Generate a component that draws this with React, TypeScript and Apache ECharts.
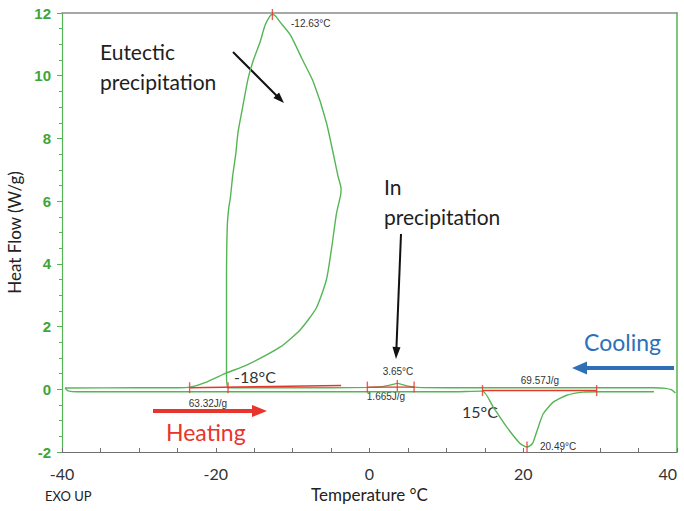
import React, { useEffect, useRef } from "react";
import * as echarts from "echarts";

// Cooling run (path order: 40 °C -> -40 °C, including the recalescence loop)
const coolingTemp = [39.8, 39.3, 38.5, 37, 30, 20, 10, 6.2, 5, 4.3, 3.65, 2.8, 1.5, 0, -5, -10, -15, -18.4,
  -18.6, -18.6, -18.5, -18.3, -18.1, -17.8, -17.4, -17.1, -16.5, -15.8, -15.1, -14.2, -13.6, -12.95, -12.63,
  -12.2, -11.6, -10.3, -8.8, -7.3, -5.6, -4.1, -3.7, -3.75, -4.3, -4.9, -5.6, -6.9, -9.0, -11.6, -16.0, -18.6,
  -21.2, -23.35, -25, -30, -39.6];
const coolingFlow = [-0.12, -0.02, 0.03, 0.05, 0.05, 0.05, 0.05, 0.06, 0.1, 0.15, 0.19, 0.14, 0.08, 0.06, 0.05, 0.05, 0.05, 0.05,
  0.5, 3.5, 5.2, 5.8, 6.1, 6.8, 7.5, 8.2, 9.0, 9.9, 10.5, 11.1, 11.6, 11.9, 11.95,
  11.9, 11.7, 11.3, 10.55, 9.8, 8.5, 6.8, 6.4, 6.2, 5.6, 4.55, 3.5, 2.6, 1.9, 1.35, 0.77, 0.52,
  0.23, 0.07, 0.05, 0.05, 0.04];

// Heating run (-40 °C -> 37 °C)
const heatingTemp = [-39.6, -39.2, -38, -30, -20, -10, 0, 10, 14.7, 16.1, 17.84, 19.58, 20.2, 20.49, 21.0, 21.3,
  21.96, 22.6, 23.9, 25.65, 27.8, 30, 37];
const heatingFlow = [0.04, -0.05, -0.08, -0.08, -0.08, -0.08, -0.08, -0.08, -0.06, -0.57, -1.2, -1.73, -1.82, -1.84, -1.78, -1.68,
  -1.2, -0.78, -0.41, -0.19, -0.09, -0.08, -0.08];

// Integration baselines
const eutecticBaseTemp = [-23.4, -3.7];
const eutecticBaseFlow = [0.05, 0.12];
const inBaseTemp = [-0.28, 5.8];
const inBaseFlow = [0.07, 0.07];
const meltBaseTemp = [14.7, 29.55];
const meltBaseFlow = [-0.04, -0.04];

// Red limit / peak markers
const markerTemp = [-23.4, -18.4, -12.63, -0.28, 3.62, 5.8, 14.7, 29.55, 20.49];
const markerFlow = [0.05, 0.05, 11.95, 0.07, 0.12, 0.07, -0.04, -0.04, -1.84];

const yMin = -2;
const yMax = 12;
const yStep = 2;
const xMin = -40;
const xMax = 40;
const xStep = 20;

const zip = (a: number[], b: number[]) => a.map((v, i) => [v, b[i]]);

const GREEN = "#55b555";
const RED = "#e8352c";

function arrow(x1: number, y1: number, x2: number, y2: number, color: string, w: number, headLen: number, headW: number) {
  const dx = x2 - x1;
  const dy = y2 - y1;
  const L = Math.hypot(dx, dy);
  const ux = dx / L;
  const uy = dy / L;
  const bx = x2 - ux * headLen;
  const by = y2 - uy * headLen;
  const px = -uy;
  const py = ux;
  return [
    { type: "line", shape: { x1, y1, x2: bx + ux * 1, y2: by + uy * 1 }, style: { stroke: color, lineWidth: w } },
    {
      type: "polygon",
      shape: { points: [[x2, y2], [bx + (px * headW) / 2, by + (py * headW) / 2], [bx - (px * headW) / 2, by - (py * headW) / 2]] },
      style: { fill: color },
    },
  ];
}

function txt(text: string, x: number, y: number, size: number, color: string, family: string, align = "left", weight = "normal") {
  return {
    type: "text",
    x,
    y,
    style: { text, fill: color, font: `${weight} ${size}px ${family}`, textAlign: align, textVerticalAlign: "middle" },
  };
}

export default function App() {
  const ref = useRef<HTMLDivElement>(null);
  useEffect(() => {
    if (!ref.current) return;
    const chart = echarts.init(ref.current, null, { renderer: "svg" });
    const small = "'Liberation Sans', Arial, sans-serif";
    const big = "Lato, 'Open Sans', sans-serif";
    chart.setOption({
      animation: false,
      backgroundColor: "#ffffff",
      grid: { left: 62, right: 7, top: 13, bottom: 59, containLabel: false, outerBoundsMode: "none" },
      xAxis: [
        {
          type: "value",
          min: xMin,
          max: xMax,
          interval: xStep,
          position: "bottom",
          axisLine: { onZero: false, lineStyle: { color: "#707070", width: 1 } },
          axisTick: { inside: true, length: 4, lineStyle: { color: "#707070" } },
          minorTick: { show: true, splitNumber: 4, length: 4, lineStyle: { color: "#707070" } },
          splitLine: { show: false },
          axisLabel: { color: "#333", fontSize: 16, fontFamily: big, margin: 13, alignMaxLabel: "right" },
          name: "Temperature °C",
          nameLocation: "middle",
          nameGap: 33,
          nameTextStyle: { color: "#222", fontSize: 17, fontFamily: big },
        },
        {
          type: "value",
          min: xMin,
          max: xMax,
          position: "top",
          axisLine: { show: true, onZero: false, lineStyle: { color: "#8a8a8a", width: 1.5 } },
          axisTick: { show: false },
          axisLabel: { show: false },
          splitLine: { show: false },
        },
      ],
      yAxis: [
        {
          type: "value",
          min: yMin,
          max: yMax,
          interval: yStep,
          position: "left",
          axisLine: { show: true, onZero: false, lineStyle: { color: GREEN, width: 1.2 } },
          axisTick: { show: true, length: 5, lineStyle: { color: GREEN } },
          minorTick: { show: true, splitNumber: 4, length: 3, lineStyle: { color: GREEN } },
          splitLine: { show: false },
          axisLabel: { color: "#3ea53a", fontSize: 15, fontWeight: "bold", fontFamily: small, margin: 11 },
          name: "Heat Flow (W/g)",
          nameLocation: "middle",
          nameGap: 38,
          nameRotate: 90,
          nameTextStyle: { color: "#222", fontSize: 17, fontFamily: big },
        },
        {
          type: "value",
          min: yMin,
          max: yMax,
          position: "right",
          axisLine: { show: true, onZero: false, lineStyle: { color: GREEN, width: 1.5 } },
          axisTick: { show: false },
          axisLabel: { show: false },
          splitLine: { show: false },
        },
      ],
      series: [
        {
          type: "line",
          data: zip(eutecticBaseTemp, eutecticBaseFlow),
          showSymbol: false,
          lineStyle: { color: RED, width: 1.4 },
          z: 3,
        },
        {
          type: "line",
          data: zip(inBaseTemp, inBaseFlow),
          showSymbol: false,
          lineStyle: { color: RED, width: 1.4 },
          z: 3,
        },
        {
          type: "line",
          data: zip(meltBaseTemp, meltBaseFlow),
          showSymbol: false,
          lineStyle: { color: RED, width: 1.4 },
          z: 3,
        },
        {
          type: "line",
          data: zip(coolingTemp, coolingFlow),
          showSymbol: false,
          smooth: 0.2,
          lineStyle: { color: GREEN, width: 1.4 },
          z: 2,
        },
        {
          type: "line",
          data: zip(heatingTemp, heatingFlow),
          showSymbol: false,
          smooth: 0.2,
          lineStyle: { color: GREEN, width: 1.4 },
          z: 2,
        },
        {
          type: "scatter",
          data: zip(markerTemp, markerFlow),
          symbol: "rect",
          symbolSize: [1.4, 11],
          itemStyle: { color: RED },
          z: 4,
        },
      ],
      graphic: [
        txt("Eutectic", 100, 51, 21, "#1e1e1e", big),
        txt("precipitation", 100, 81, 21, "#1e1e1e", big),
        txt("In", 384, 186, 21, "#1e1e1e", big),
        txt("precipitation", 384, 216, 21, "#1e1e1e", big),
        txt("Cooling", 584, 342, 23, "#2e70b8", big),
        txt("Heating", 166, 432, 23, RED, big),
        txt("EXO UP", 45, 496, 13, "#222", big),
        txt("-12.63°C", 291, 23, 10, "#333", small),
        txt("-18°C", 234, 376, 16, "#333", big),
        txt("63.32J/g", 208, 403, 10, "#333", small, "center"),
        txt("3.65°C", 398, 371, 10, "#333", small, "center"),
        txt("1.665J/g", 386, 396, 10, "#333", small, "center"),
        txt("69.57J/g", 540, 380, 10, "#333", small, "center"),
        txt("15°C", 462, 411, 16, "#333", big),
        txt("20.49°C", 540, 446, 10, "#333", small),
        ...arrow(233, 52, 284, 103, "#111", 2, 11, 8),
        ...arrow(401, 234, 396, 359, "#111", 2, 12, 8),
        ...arrow(674, 368, 572, 368, "#2e70b8", 4, 15, 13),
        ...arrow(153, 411, 267, 411, RED, 4, 15, 12),
      ],
    });
    return () => chart.dispose();
  }, []);
  return <div ref={ref} style={{ position: "fixed", left: 0, top: 0, width: 684, height: 511, background: "#fff" }} />;
}
